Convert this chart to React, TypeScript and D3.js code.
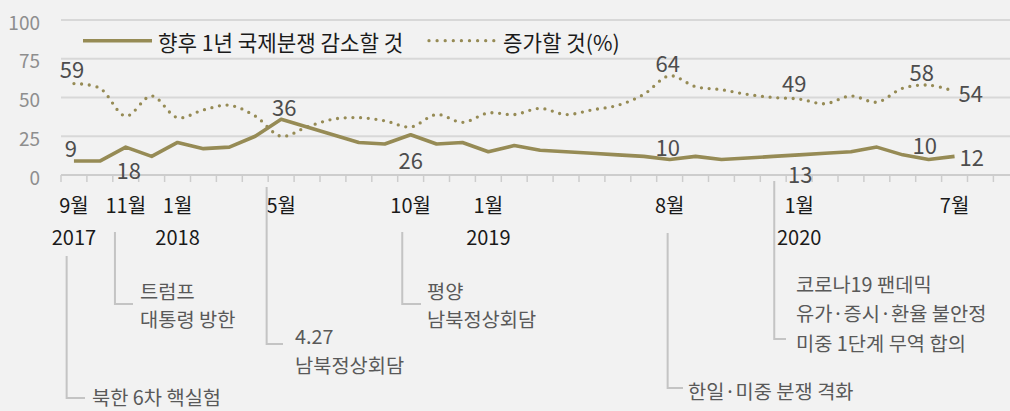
import React from "react";
import * as d3 from "d3";

// ---- data ----
const categories = [
  "2017-09","2017-10","2017-11","2017-12","2018-01","2018-02","2018-03","2018-04","2018-05","2018-06",
  "2018-07","2018-08","2018-09","2018-10","2018-11","2018-12","2019-01","2019-02","2019-03","2019-04",
  "2019-05","2019-06","2019-07","2019-08","2019-09","2019-10","2019-11","2019-12","2020-01","2020-02",
  "2020-03","2020-04","2020-05","2020-06","2020-07","2020-08","2020-09",
];
const dataMonths = categories.slice(0, 35);
const decrease = [9,9,18,12,21,17,18,25,36,31,26,21,20,26,20,21,15,19,16,15,14,13,12,10,12,10,11,12,13,14,15,18,13,10,12];
const increase = [59,56,38,51,37,42,45,38,25,31,36,37,35,31,39,34,40,39,43,39,42,45,52,64,57,55,52,50,49,46,51,47,56,58,54];

const yTicks = [0, 25, 50, 75, 100];
const monthTicks = [
  { cat: "2017-09", label: "9월" },
  { cat: "2017-11", label: "11월" },
  { cat: "2018-01", label: "1월" },
  { cat: "2018-05", label: "5월" },
  { cat: "2018-10", label: "10월" },
  { cat: "2019-01", label: "1월" },
  { cat: "2019-08", label: "8월" },
  { cat: "2020-01", label: "1월" },
  { cat: "2020-07", label: "7월" },
];
const yearTicks = [
  { cat: "2017-09", label: "2017" },
  { cat: "2018-01", label: "2018" },
  { cat: "2019-01", label: "2019" },
  { cat: "2020-01", label: "2020" },
];
const legendLabels = ["향후 1년 국제분쟁 감소할 것", "증가할 것(%)"];
const annotations = [
  { cat: "2017-09", lines: ["북한 6차 핵실험"] },
  { cat: "2017-11", lines: ["트럼프", "대통령 방한"] },
  { cat: "2018-05", lines: ["4.27", "남북정상회담"] },
  { cat: "2018-10", lines: ["평양", "남북정상회담"] },
  { cat: "2019-08", lines: ["한일·미중 분쟁 격화"] },
  { cat: "2019-12", lines: ["코로나19 팬데믹", "유가·증시·환율 불안정", "미중 1단계 무역 합의"] },
];
const valueLabels = [
  { series: "inc", cat: "2017-09", text: "59" },
  { series: "dec", cat: "2017-09", text: "9" },
  { series: "dec", cat: "2017-11", text: "18" },
  { series: "dec", cat: "2018-05", text: "36" },
  { series: "dec", cat: "2018-10", text: "26" },
  { series: "inc", cat: "2019-08", text: "64" },
  { series: "dec", cat: "2019-08", text: "10" },
  { series: "inc", cat: "2020-01", text: "49" },
  { series: "dec", cat: "2020-01", text: "13" },
  { series: "inc", cat: "2020-06", text: "58" },
  { series: "dec", cat: "2020-06", text: "10" },
  { series: "inc", cat: "2020-07", text: "54" },
  { series: "dec", cat: "2020-07", text: "12" },
];

// ---- layout (positions / styles) ----
const W = 1010, H = 411;
const STEP = 25.9;
const X0 = 61;
const COLOR = "#968b55";
const FONT = "'Noto Sans CJK KR', 'Noto Sans', sans-serif";
const labelOffsets = [
  { dx: -2, dy: -16, anchor: "middle" },
  { dx: -3, dy: -14, anchor: "middle" },
  { dx: 3, dy: 22, anchor: "middle" },
  { dx: 3, dy: -13, anchor: "middle" },
  { dx: 0, dy: 24, anchor: "middle" },
  { dx: -2, dy: -14, anchor: "middle" },
  { dx: -2, dy: -14, anchor: "middle" },
  { dx: -5, dy: -17, anchor: "middle" },
  { dx: 1, dy: 18, anchor: "middle" },
  { dx: -7, dy: -14, anchor: "middle" },
  { dx: -4, dy: -16, anchor: "middle" },
  { dx: 4, dy: 1, anchor: "start" },
  { dx: 5, dy: 0, anchor: "start" },
];
// annotation leader: x offset from category center, top y, bottom y, text lines y centers
const annLayout = [
  { dx: -7.3, top: 256, bottom: 398, hx: 85, tx: 92, ys: [396] },
  { dx: -10.8, top: 232, bottom: 304, hx: 133, tx: 140, ys: [290, 318] },
  { dx: -14.5, top: 187, bottom: 344, hx: 283, tx: 295, ys: [335, 364] },
  { dx: -8.4, top: 232, bottom: 304, hx: 421, tx: 427, ys: [290, 318] },
  { dx: -2, top: 233, bottom: 388, hx: 683, tx: 688, ys: [390] },
  { dx: 1, top: 181, bottom: 339, hx: 786, tx: 796, ys: [283, 312, 342] },
];

export default function App() {
  const x = d3
    .scaleBand<string>()
    .domain(categories)
    .range([X0, X0 + categories.length * STEP])
    .padding(0);
  const cx = (c: string) => (x(c) as number) + x.bandwidth() / 2;
  const y = d3.scaleLinear().domain([0, 100]).range([175, 20]);

  const lineDec = d3
    .line<number>()
    .x((_, i) => cx(dataMonths[i]))
    .y((d) => y(d))
    .curve(d3.curveLinear);
  const lineInc = d3
    .line<number>()
    .x((_, i) => cx(dataMonths[i]))
    .y((d) => y(d))
    .curve(d3.curveCatmullRom.alpha(0.5));

  const valueOf = (s: string, c: string) => {
    const i = dataMonths.indexOf(c);
    return s === "inc" ? increase[i] : decrease[i];
  };

  return (
    <svg
      width={W}
      height={H}
      style={{ position: "absolute", left: 0, top: 0, display: "block" }}
      fontFamily={FONT}
    >
      <rect x={0} y={0} width={W} height={H} fill="#f2f2f2" />
      {/* gridlines */}
      {yTicks.map((v) => (
        <line key={v} x1={X0} x2={W} y1={y(v)} y2={y(v)} stroke={v === 0 ? "#cdcdcd" : "#d8d8d8"} strokeWidth={2} />
      ))}
      {/* y labels */}
      {yTicks.map((v) => (
        <text key={"t" + v} x={40} y={y(v) + 1} textAnchor="end" dominantBaseline="central" fontSize={19} fill="#8e8e8e">
          {v}
        </text>
      ))}
      {/* x ticks */}
      {d3.range(categories.length + 1).map((i) => (
        <line key={"xt" + i} x1={X0 + i * x.bandwidth()} x2={X0 + i * x.bandwidth()} y1={175} y2={182} stroke="#cdcdcd" strokeWidth={1.5} />
      ))}
      {/* month & year labels */}
      {monthTicks.map((m, i) => (
        <text key={"m" + i} x={cx(m.cat)} y={204} textAnchor="middle" dominantBaseline="central" fontSize={20} fill="#1a1a1a">
          {m.label}
        </text>
      ))}
      {yearTicks.map((m, i) => (
        <text key={"y" + i} x={cx(m.cat)} y={236} textAnchor="middle" dominantBaseline="central" fontSize={20} fill="#1a1a1a">
          {m.label}
        </text>
      ))}
      {/* annotations */}
      {annotations.map((a, i) => {
        const L = annLayout[i];
        const lx = cx(a.cat) + L.dx;
        return (
          <g key={"a" + i}>
            <path d={`M${lx},${L.top}V${L.bottom}H${L.hx}`} fill="none" stroke="#c4c4c4" strokeWidth={2} />
            {a.lines.map((t, j) => (
              <text key={j} x={L.tx} y={L.ys[j]} dominantBaseline="central" fontSize={19.8} fill="#595959">
                {t}
              </text>
            ))}
          </g>
        );
      })}
      {/* series */}
      <path d={lineInc(increase) || ""} fill="none" stroke={COLOR} strokeWidth={3.3} strokeLinecap="round" strokeDasharray="0 7.7" />
      <path d={lineDec(decrease) || ""} fill="none" stroke={COLOR} strokeWidth={3.6} strokeLinejoin="round" />
      {/* value labels */}
      {valueLabels.map((l, i) => {
        const o = labelOffsets[i];
        return (
          <text
            key={"v" + i}
            x={cx(l.cat) + o.dx}
            y={y(valueOf(l.series, l.cat)) + o.dy}
            textAnchor={o.anchor as any}
            dominantBaseline="central"
            fontSize={22}
            fill="#4d4d4d"
          >
            {l.text}
          </text>
        );
      })}
      {/* legend */}
      <line x1={83} x2={152} y1={40.7} y2={40.7} stroke={COLOR} strokeWidth={3.6} />
      <text x={158} y={41} dominantBaseline="central" fontSize={21.2} fill="#1a1a1a">
        {legendLabels[0]}
      </text>
      <line x1={429} x2={494} y1={40.7} y2={40.7} stroke={COLOR} strokeWidth={3.3} strokeLinecap="round" strokeDasharray="0 8.1" />
      <text x={503} y={41} dominantBaseline="central" fontSize={21.2} fill="#1a1a1a">
        {legendLabels[1]}
      </text>
    </svg>
  );
}
